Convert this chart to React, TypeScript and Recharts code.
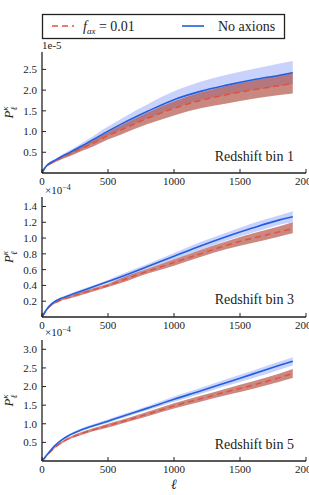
import { ComposedChart, Area, Line, XAxis, YAxis } from "recharts";

// multipole values shared by all three redshift bins
const ell = [0, 25, 50, 100, 150, 200, 300, 400, 500, 600, 800, 1000, 1200, 1400, 1600, 1800, 1900];

// bin 1, units of 1e-5
const bin1NoAx = [0, 0.14, 0.22, 0.31, 0.4, 0.48, 0.65, 0.83, 1.01, 1.18, 1.49, 1.77, 1.97, 2.12, 2.25, 2.36, 2.42];
const bin1NoAxLo = [0, 0.13, 0.2, 0.28, 0.36, 0.43, 0.58, 0.74, 0.9, 1.05, 1.32, 1.57, 1.76, 1.89, 2.0, 2.1, 2.15];
const bin1NoAxHi = [0, 0.15, 0.24, 0.34, 0.44, 0.53, 0.72, 0.92, 1.12, 1.31, 1.66, 1.97, 2.2, 2.37, 2.51, 2.64, 2.7];
const bin1Ax = [0, 0.13, 0.2, 0.29, 0.37, 0.44, 0.59, 0.74, 0.9, 1.04, 1.32, 1.56, 1.75, 1.89, 2.01, 2.11, 2.16];
const bin1AxLo = [0, 0.12, 0.18, 0.26, 0.33, 0.39, 0.53, 0.66, 0.81, 0.93, 1.18, 1.39, 1.56, 1.68, 1.79, 1.88, 1.92];
const bin1AxHi = [0, 0.14, 0.22, 0.32, 0.41, 0.49, 0.65, 0.82, 0.99, 1.15, 1.46, 1.73, 1.94, 2.1, 2.23, 2.35, 2.41];

// bin 3, units of 1e-4
const bin3NoAx = [0, 0.07, 0.13, 0.2, 0.24, 0.27, 0.33, 0.39, 0.45, 0.51, 0.64, 0.77, 0.9, 1.02, 1.13, 1.23, 1.27];
const bin3NoAxLo = [0, 0.065, 0.12, 0.19, 0.23, 0.26, 0.31, 0.37, 0.43, 0.48, 0.61, 0.73, 0.85, 0.97, 1.07, 1.17, 1.2];
const bin3NoAxHi = [0, 0.075, 0.14, 0.21, 0.25, 0.285, 0.35, 0.41, 0.47, 0.54, 0.67, 0.81, 0.95, 1.07, 1.19, 1.29, 1.34];
const bin3Ax = [0, 0.065, 0.12, 0.18, 0.22, 0.245, 0.3, 0.35, 0.4, 0.46, 0.58, 0.69, 0.8, 0.91, 1.0, 1.08, 1.12];
const bin3AxLo = [0, 0.06, 0.11, 0.17, 0.21, 0.23, 0.28, 0.33, 0.38, 0.43, 0.55, 0.65, 0.76, 0.86, 0.94, 1.02, 1.06];
const bin3AxHi = [0, 0.07, 0.13, 0.19, 0.23, 0.26, 0.32, 0.37, 0.42, 0.49, 0.61, 0.73, 0.85, 0.96, 1.06, 1.15, 1.2];

// bin 5, units of 1e-4
const bin5NoAx = [0, 0.11, 0.22, 0.42, 0.57, 0.68, 0.84, 0.96, 1.07, 1.19, 1.42, 1.66, 1.88, 2.11, 2.34, 2.57, 2.68];
const bin5NoAxLo = [0, 0.1, 0.21, 0.4, 0.55, 0.65, 0.8, 0.92, 1.02, 1.14, 1.36, 1.59, 1.8, 2.02, 2.23, 2.45, 2.57];
const bin5NoAxHi = [0, 0.12, 0.23, 0.44, 0.6, 0.71, 0.88, 1.0, 1.12, 1.24, 1.48, 1.73, 1.96, 2.2, 2.43, 2.67, 2.79];
const bin5Ax = [0, 0.1, 0.2, 0.37, 0.5, 0.6, 0.74, 0.85, 0.95, 1.05, 1.26, 1.48, 1.67, 1.86, 2.04, 2.24, 2.35];
const bin5AxLo = [0, 0.09, 0.19, 0.35, 0.47, 0.57, 0.7, 0.81, 0.9, 1.0, 1.2, 1.41, 1.59, 1.77, 1.94, 2.13, 2.23];
const bin5AxHi = [0, 0.11, 0.21, 0.39, 0.53, 0.63, 0.78, 0.89, 1.0, 1.1, 1.32, 1.55, 1.75, 1.95, 2.14, 2.35, 2.47];

const xTicks = [0, 500, 1000, 1500, 2000];

const BLUE = "#1f5fe0";
const RED = "#e5503e";
const FONT = "Liberation Serif, Times New Roman, DejaVu Serif, serif";
const FRAME = "#222";

const build = (
  noAx: number[], noAxLo: number[], noAxHi: number[],
  ax: number[], axLo: number[], axHi: number[]
) =>
  ell.map((l, i) => ({
    ell: l,
    noAx: noAx[i],
    noAxBand: [noAxLo[i], noAxHi[i]],
    ax: ax[i],
    axBand: [axLo[i], axHi[i]],
  }));

const YLabel = ({ viewBox }: any) => {
  const cy = viewBox.y + viewBox.height / 2;
  return (
    <text
      transform={`translate(13, ${cy}) rotate(-90)`}
      textAnchor="middle"
      fontFamily={FONT}
      fontStyle="italic"
      fontSize={13}
      fill="#222"
    >
      P
      <tspan fontSize={9} dy={4}>ℓ</tspan>
      <tspan fontSize={9} dx={-4} dy={-9}>κ</tspan>
    </text>
  );
};

interface PanelProps {
  data: any[];
  domain: [number, number];
  ticks: number[];
  plotTop: number;
  plotHeight: number;
  xLabel?: boolean;
}

const Panel = ({ data, domain, ticks, plotTop, plotHeight, xLabel }: PanelProps) => {
  const axisH = xLabel ? 30 : 20;
  const tickStyle = { fontFamily: FONT, fontSize: 11, fill: "#222" };
  return (
    <div style={{ position: "absolute", left: 0, top: plotTop - 2 }}>
      <ComposedChart
        width={309}
        height={2 + plotHeight + axisH}
        data={data}
        margin={{ top: 2, right: 3, left: 0, bottom: 0 }}
      >
        <XAxis
          dataKey="ell"
          type="number"
          domain={[0, 2000]}
          ticks={xTicks}
          interval={0}
          allowDataOverflow
          height={axisH}
          tickSize={-4}
          tickMargin={8}
          tick={tickStyle}
          axisLine={{ stroke: FRAME, strokeWidth: 1.3 }}
          tickLine={{ stroke: FRAME }}
          label={
            xLabel
              ? { value: "ℓ", position: "insideBottom", offset: 2, style: { fontFamily: FONT, fontStyle: "italic", fontSize: 14, fill: "#222" } }
              : undefined
          }
        />
        <XAxis
          xAxisId="top"
          orientation="top"
          type="number"
          domain={[0, 2000]}
          ticks={xTicks}
          interval={0}
          height={0}
          tickSize={-4}
          tick={false}
          axisLine={{ stroke: FRAME, strokeWidth: 1.3 }}
          tickLine={{ stroke: FRAME }}
        />
        <YAxis
          type="number"
          domain={domain}
          ticks={ticks}
          interval={0}
          allowDataOverflow
          width={42}
          tickSize={-4}
          tickMargin={9}
          tick={tickStyle}
          tickFormatter={(v: number) => v.toFixed(1)}
          axisLine={{ stroke: FRAME, strokeWidth: 1.3 }}
          tickLine={{ stroke: FRAME }}
          label={<YLabel />}
        />
        <YAxis
          yAxisId="right"
          orientation="right"
          type="number"
          domain={domain}
          ticks={ticks}
          interval={0}
          width={0}
          tickSize={-4}
          tick={false}
          axisLine={{ stroke: FRAME, strokeWidth: 1.3 }}
          tickLine={{ stroke: FRAME }}
        />
        <Area
          dataKey="noAxBand"
          type="monotone"
          stroke="none"
          fill="#3d5cf2"
          fillOpacity={0.28}
          isAnimationActive={false}
        />
        <Area
          dataKey="axBand"
          type="monotone"
          stroke="none"
          fill="#a63a2c"
          fillOpacity={0.6}
          isAnimationActive={false}
        />
        <Line
          dataKey="ax"
          type="monotone"
          stroke={RED}
          strokeWidth={1.5}
          strokeDasharray="6 4"
          dot={false}
          isAnimationActive={false}
        />
        <Line
          dataKey="noAx"
          type="monotone"
          stroke={BLUE}
          strokeWidth={1.6}
          dot={false}
          isAnimationActive={false}
        />
      </ComposedChart>
    </div>
  );
};

const Overlay = () => (
  <svg
    width={309}
    height={495}
    style={{ position: "absolute", left: 0, top: 0, pointerEvents: "none" }}
    fontFamily={FONT}
    fill="#222"
  >
    {/* legend */}
    <rect x={42.5} y={14.5} width={242} height={24} fill="#fff" stroke={FRAME} strokeWidth={1.3} />
    <line x1={52} y1={26} x2={74} y2={26} stroke={RED} strokeWidth={1.5} strokeDasharray="6 4" />
    <text x={83} y={31} fontSize={14}>
      <tspan fontStyle="italic">f</tspan>
      <tspan fontStyle="italic" fontSize={9} dy={3}>ax</tspan>
      <tspan dy={-3}> = 0.01</tspan>
    </text>
    <line x1={182} y1={26} x2={204} y2={26} stroke={BLUE} strokeWidth={1.6} />
    <text x={218} y={31} fontSize={14}>No axions</text>

    {/* axis multipliers */}
    <text x={42} y={49} fontSize={11}>1e-5</text>
    <text x={45} y={194} fontSize={11}>
      ×10<tspan fontSize={8} dy={-4}>−4</tspan>
    </text>
    <text x={45} y={336} fontSize={11}>
      ×10<tspan fontSize={8} dy={-4}>−4</tspan>
    </text>

    {/* panel annotations */}
    <text x={294} y={161} fontSize={14} textAnchor="end">Redshift bin 1</text>
    <text x={294} y={304} fontSize={14} textAnchor="end">Redshift bin 3</text>
    <text x={294} y={449} fontSize={14} textAnchor="end">Redshift bin 5</text>
  </svg>
);

const data1 = build(bin1NoAx, bin1NoAxLo, bin1NoAxHi, bin1Ax, bin1AxLo, bin1AxHi);
const data3 = build(bin3NoAx, bin3NoAxLo, bin3NoAxHi, bin3Ax, bin3AxLo, bin3AxHi);
const data5 = build(bin5NoAx, bin5NoAxLo, bin5NoAxHi, bin5Ax, bin5AxLo, bin5AxHi);

const App = () => {
  return (
    <div style={{ position: "absolute", left: 0, top: 0, width: 309, height: 495, background: "#fff" }}>
      <Panel data={data1} domain={[0, 2.92]} ticks={[0.5, 1.0, 1.5, 2.0, 2.5]} plotTop={52} plotHeight={121} />
      <Panel data={data3} domain={[0, 1.52]} ticks={[0.2, 0.4, 0.6, 0.8, 1.0, 1.2, 1.4]} plotTop={197} plotHeight={120} />
      <Panel data={data5} domain={[0, 3.25]} ticks={[0.5, 1.0, 1.5, 2.0, 2.5, 3.0]} plotTop={340} plotHeight={121} xLabel />
      <Overlay />
    </div>
  );
};

export default App;
